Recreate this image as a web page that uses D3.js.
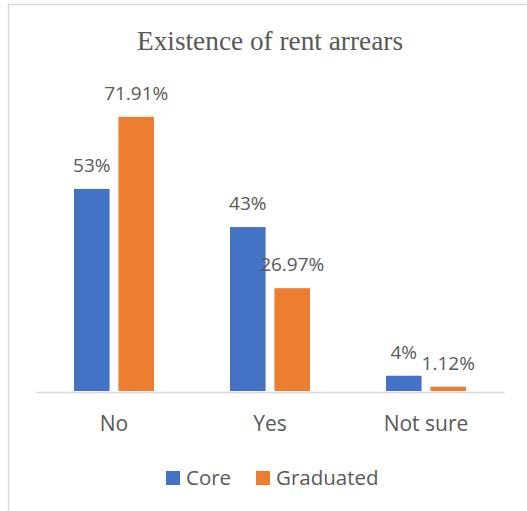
<!DOCTYPE html>
<html>
<head>
<meta charset="utf-8">
<script src="https://cdn.jsdelivr.net/npm/d3@7/dist/d3.min.js"></script>
<style>
  html, body { margin: 0; padding: 0; background: #fff; }
  svg { display: block; }
</style>
</head>
<body>
<svg id="chart" width="527" height="511"></svg>
<script>
// Rent arrears by group (percent of respondents)
const categories = ["No", "Yes", "Not sure"];
const series = ["Core", "Graduated"];
const coreValues = [53, 43, 4];
const graduatedValues = [71.91, 26.97, 1.12];
const coreLabels = ["53%", "43%", "4%"];
const graduatedLabels = ["71.91%", "26.97%", "1.12%"];
const colors = ["#4472C4", "#ED7D31"];

const valuesBySeries = [coreValues, graduatedValues];
const labelsBySeries = [coreLabels, graduatedLabels];

const svg = d3.select("#chart");
const textColor = "#595959";
const font = "'Open Sans', sans-serif";

// Outer frame
svg.append("rect")
  .attr("x", 8.5).attr("y", 4.5)
  .attr("width", 600).attr("height", 600)
  .attr("fill", "#fff")
  .attr("stroke", "#d9d9d9")
  .attr("stroke-width", 1.5);

// Title
svg.append("text")
  .attr("x", 270).attr("y", 49.5)
  .attr("text-anchor", "middle")
  .attr("font-family", "'Liberation Serif', 'Times New Roman', serif")
  .attr("font-size", 27.3)
  .attr("fill", textColor)
  .text("Existence of rent arrears");

const baseline = 391;
const x0 = d3.scaleBand().domain(categories).range([36, 504]).padding(0);
const x1 = d3.scaleBand().domain(series).range([0, 80]).paddingInner(0.2);
const y = d3.scaleLinear().domain([0, 80]).range([baseline, 86]);

const rows = [];
series.forEach((s, si) => {
  categories.forEach((c, ci) => {
    rows.push({ s, si, c, v: valuesBySeries[si][ci], label: labelsBySeries[si][ci] });
  });
});

const barX = d => x0(d.c) + x0.bandwidth() / 2 - 40 + x1(d.s);

// Bars
svg.append("g").selectAll("rect")
  .data(rows)
  .join("rect")
  .attr("x", barX)
  .attr("y", d => y(d.v))
  .attr("width", x1.bandwidth())
  .attr("height", d => y(0) - y(d.v))
  .attr("fill", d => colors[d.si]);

// Value labels
svg.append("g").selectAll("text")
  .data(rows)
  .join("text")
  .attr("x", d => barX(d) + x1.bandwidth() / 2)
  .attr("y", d => y(d.v) - 17)
  .attr("text-anchor", "middle")
  .attr("font-family", font)
  .attr("font-size", 19)
  .attr("fill", textColor)
  .text(d => d.label);

// Category axis
const xAxis = svg.append("g")
  .attr("transform", `translate(0,${baseline + 1})`)
  .call(d3.axisBottom(x0).tickSize(0).tickPadding(0));
xAxis.select(".domain")
  .attr("stroke", "#d9d9d9")
  .attr("stroke-width", 1.5);
xAxis.selectAll(".tick text")
  .attr("dy", null)
  .attr("y", 39)
  .attr("font-family", font)
  .attr("font-size", 21)
  .attr("fill", textColor);

// Legend
const legendItems = [
  { name: series[0], color: colors[0], x: 166 },
  { name: series[1], color: colors[1], x: 256 }
];
const legend = svg.append("g").selectAll("g")
  .data(legendItems)
  .join("g")
  .attr("transform", d => `translate(${d.x},471)`);
legend.append("rect")
  .attr("width", 14).attr("height", 14)
  .attr("fill", d => d.color);
legend.append("text")
  .attr("x", 20).attr("y", 14)
  .attr("font-family", font)
  .attr("font-size", 20.5)
  .attr("fill", textColor)
  .text(d => d.name);
</script>
</body>
</html>
